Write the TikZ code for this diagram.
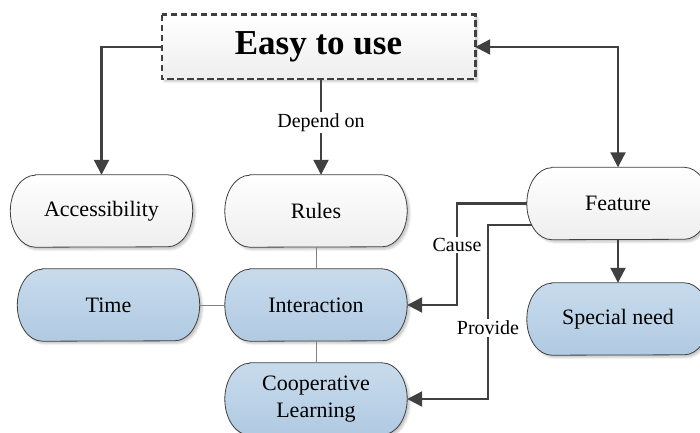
\documentclass[tikz,border=0pt]{standalone}
\usepackage{fontspec}
\setmainfont{Liberation Serif}
\usetikzlibrary{arrows.meta,backgrounds,calc,shadows.blur}

\definecolor{linegray}{HTML}{404040}
\definecolor{thingray}{HTML}{808080}
\definecolor{bluetop}{RGB}{200,219,236}
\definecolor{bluebot}{RGB}{176,202,226}
\definecolor{greybot}{RGB}{238,238,238}

% outline of a capsule with elliptical ends around a node
\newcommand\capsulepath[1]{([xshift=25pt]#1.north west) -- ([xshift=-25pt]#1.north east)
  arc[start angle=90,end angle=-90,x radius=25pt,y radius=36pt]
  -- ([xshift=25pt]#1.south west)
  arc[start angle=270,end angle=90,x radius=25pt,y radius=36pt] -- cycle}

\tikzset{
  capsule/.style={minimum width=182pt, minimum height=72pt, inner sep=0pt,
    align=center, font=\rmfamily\fontsize{22}{26.4}\selectfont},
  softshadow/.style={blur shadow={shadow xshift=2.5pt, shadow yshift=-2.5pt,
    shadow blur radius=2pt, shadow opacity=22}},
  whitecap/.style={draw=linegray, line width=0.8pt, top color=white,
    bottom color=greybot, softshadow},
  bluecap/.style={draw=linegray, line width=0.8pt, top color=bluetop,
    bottom color=bluebot, softshadow},
  titlebox/.style={minimum width=313pt, minimum height=64pt, inner sep=0pt,
    font=\rmfamily\fontsize{35}{40}\selectfont\bfseries},
  titleframe/.style={draw=linegray, line width=2.6pt, dash pattern=on 6.5pt off 3.5pt,
    top color=white, bottom color=greybot, softshadow},
  arr/.style={draw=linegray, line width=2.2pt, -{Triangle[length=15pt,width=15pt]}},
  dblarr/.style={draw=linegray, line width=2.2pt,
    {Triangle[length=15pt,width=15pt]}-{Triangle[length=15pt,width=15pt]}},
  link/.style={draw=thingray, line width=1pt},
  lbl/.style={fill=white, inner sep=1.5pt, font=\rmfamily\fontsize{20}{24}\selectfont},
}

\begin{document}
\begin{tikzpicture}[x=1pt,y=1pt]
\useasboundingbox (0,0) rectangle (700,432);

% nodes
\node[titlebox] (easy) at (318.5,385) {Easy to use};
\node[capsule] (access)  at (101.5,221) {Accessibility};
\node[capsule] (rules)   at (316,221)   {Rules};
\node[capsule] (feature) at (618,228.5) {Feature};
\node[capsule] (time)    at (108.5,127) {Time};
\node[capsule] (inter)   at (316,127)   {Interaction};
\node[capsule] (special) at (618,113)   {Special need};
\node[capsule] (coop)    at (316,33)    {Cooperative\\Learning};

% node outlines behind the text
\begin{scope}[on background layer]
  \path[titleframe] (easy.north west) rectangle (easy.south east);
  \path[whitecap] \capsulepath{access};
  \path[whitecap] \capsulepath{rules};
  \path[whitecap] \capsulepath{feature};
  \path[bluecap]  \capsulepath{time};
  \path[bluecap]  \capsulepath{inter};
  \path[bluecap]  \capsulepath{special};
  \path[bluecap]  \capsulepath{coop};
\end{scope}

% thin links
\draw[link] (rules.south) -- (inter.north);
\draw[link] (time.east) -- (inter.west);
\draw[link] (inter.south) -- (coop.north);

% arrows
\draw[arr] (easy.west) -| (access.north);
\draw[dblarr] (easy.east) -| (feature.north);
\draw[arr] ([xshift=5pt]rules.north |- easy.south) -- node[lbl, pos=0.45] {Depend on} ([xshift=5pt]rules.north);
\draw[arr] (feature.south) -- (special.north);

\coordinate (causeturn) at ($(feature.west)+(-70,0)$);
\draw[arr] (feature.west) -- (causeturn) |- (inter.east);
\node[lbl] (causelbl) at (457,187) {Cause};

\coordinate (providestart) at ($(feature.west)+(5,-21.5)$);
\coordinate (provideturn) at ($(providestart)+(-44,0)$);
\draw[arr] (providestart) -- (provideturn) |- (coop.east);
\node[lbl] (providelbl) at (488,104) {Provide};
\end{tikzpicture}
\end{document}
